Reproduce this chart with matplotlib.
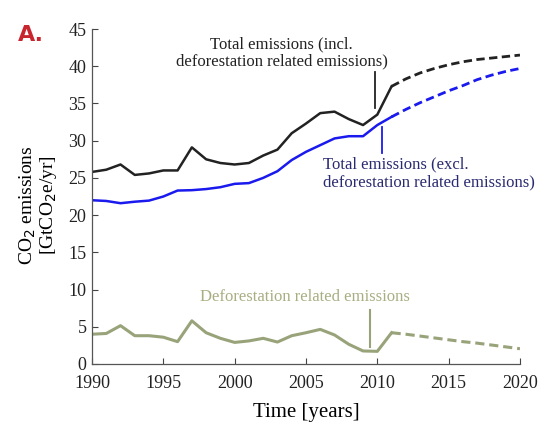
import numpy as np
import matplotlib.pyplot as plt

# historical period (solid) and projection (dashed)
years_hist = np.arange(1990, 2012)
years_proj = np.arange(2011, 2021)

total_incl = [25.8, 26.1, 26.8, 25.4, 25.6, 26.0, 26.0, 29.1, 27.5, 27.0, 26.8,
              27.0, 28.0, 28.8, 31.0, 32.3, 33.7, 33.9, 32.9, 32.1, 33.5, 37.3]
total_excl = [22.0, 21.9, 21.6, 21.8, 21.95, 22.5, 23.3, 23.35, 23.5, 23.75, 24.2,
              24.3, 25.0, 25.9, 27.4, 28.5, 29.4, 30.3, 30.6, 30.6, 32.1, 33.2]
deforest = [4.0, 4.1, 5.15, 3.8, 3.8, 3.6, 3.0, 5.8, 4.2, 3.45, 2.9,
            3.1, 3.45, 2.95, 3.8, 4.2, 4.65, 3.9, 2.65, 1.75, 1.7, 4.2]

proj_incl = [37.3, 38.3, 39.1, 39.7, 40.2, 40.6, 40.9, 41.1, 41.3, 41.5]
proj_excl = [33.2, 34.2, 35.1, 35.9, 36.7, 37.4, 38.2, 38.8, 39.3, 39.7]
proj_deforest = [4.2, 4.0, 3.75, 3.5, 3.25, 3.0, 2.8, 2.55, 2.3, 2.05]

x_ticks = [1990, 1995, 2000, 2005, 2010, 2015, 2020]
y_ticks = [0, 5, 10, 15, 20, 25, 30, 35, 40, 45]

c_black = '#222222'
c_blue = '#1a1aee'
c_green = '#98a37a'

plt.rcParams['font.family'] = ['Liberation Serif', 'DejaVu Serif']

fig = plt.figure(figsize=(5.43, 4.23), dpi=100)
ax = fig.add_axes([0.1694, 0.1395, 0.7882, 0.7919])

ax.plot(years_hist, total_incl, color=c_black, lw=1.8)
ax.plot(years_hist, total_excl, color=c_blue, lw=1.8)
ax.plot(years_hist, deforest, color=c_green, lw=2.2)
ax.plot(years_proj, proj_incl, color=c_black, lw=2.0, ls=(0, (3, 1.6)))
ax.plot(years_proj, proj_excl, color=c_blue, lw=2.0, ls=(0, (3, 1.6)))
ax.plot(years_proj, proj_deforest, color=c_green, lw=2.2, ls=(0, (3, 1.6)))

ax.set_xlim(1990, 2020)
ax.set_ylim(0, 45)
ax.set_xticks(x_ticks)
ax.set_yticks(y_ticks)
ax.tick_params(direction='in', length=4, width=0.8, colors='#444444',
               labelsize=13, labelcolor='#222222')
ax.tick_params(axis='y', pad=4)
ax.tick_params(axis='x', pad=8)
for side in ['top', 'right']:
    ax.spines[side].set_visible(False)
for side in ['left', 'bottom']:
    ax.spines[side].set_color('#555555')
    ax.spines[side].set_linewidth(0.9)

ax.set_xlabel('Time [years]', fontsize=15, labelpad=8)
ax.set_ylabel('CO$_2$ emissions\n[GtCO$_2$e/yr]', fontsize=14, linespacing=1.0)
ax.yaxis.set_label_coords(-0.078, 0.475)

# annotations with leader lines
ax.text(2003.3, 41.8, 'Total emissions (incl.\ndeforestation related emissions)',
        ha='center', va='center', fontsize=12, color='#222222', linespacing=1.15)
ax.plot([2009.85, 2009.85], [34.4, 39.2], color=c_black, lw=1.3)

ax.text(2006.2, 25.6, 'Total emissions (excl.\ndeforestation related emissions)',
        ha='left', va='center', fontsize=12, color='#2a2a70', linespacing=1.15)
ax.plot([2010.3, 2010.3], [28.4, 31.9], color=c_blue, lw=1.3)

ax.text(2004.9, 9.0, 'Deforestation related emissions',
        ha='center', va='center', fontsize=12, color='#a9ae82')
ax.plot([2009.5, 2009.5], [2.3, 7.3], color=c_green, lw=1.5)

fig.text(0.033, 0.917, 'A.', fontsize=16, fontweight='bold', color='#c8262e',
         family='DejaVu Sans', ha='left', va='center')

fig.savefig('out.png', dpi=100)
